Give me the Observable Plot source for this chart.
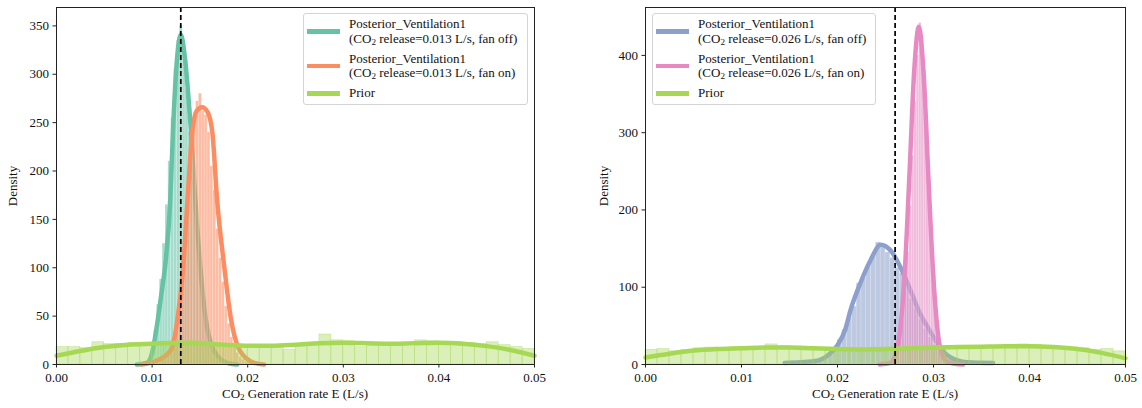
<!DOCTYPE html>
<html>
<head>
<meta charset="utf-8">
<script src="https://cdn.jsdelivr.net/npm/d3@7"></script>
<script src="https://cdn.jsdelivr.net/npm/@observablehq/plot@0.6"></script>
<style>
  body { margin: 0; background: #fff; }
  #wrap { position: relative; width: 1142px; height: 408px; font-family: "Liberation Serif", "Times New Roman", "DejaVu Serif", serif; color: #111; }
  .panel { position: absolute; top: 0; }
  .legend { position: absolute; box-sizing: border-box; border: 1px solid #d4d4d4; border-radius: 3px; background: rgba(255,255,255,0.85); padding: 3px 4px 0 3px; font-size: 13px; line-height: 14.5px; }
  .row { display: flex; align-items: center; margin-bottom: 5.5px; }
  .sw { width: 33px; height: 4.5px; margin-right: 9px; flex: none; }
  .xl { position: absolute; font-size: 13px; transform: translateX(-50%); white-space: nowrap; }
  .yl { position: absolute; font-size: 13px; transform: translate(-50%,-50%) rotate(-90deg); white-space: nowrap; }
  sub { font-size: 70%; vertical-align: -0.25em; line-height: 0; }
</style>
</head>
<body>
<div id="wrap">
  <div id="left" class="panel" style="left:0"></div>
  <div id="right" class="panel" style="left:571px"></div>
  <div class="legend" style="left:303px;top:13px;width:225px;height:92px">
    <div class="row"><span class="sw" style="background:#66c2a5"></span><span>Posterior_Ventilation1<br>(CO<sub>2</sub> release=0.013 L/s, fan off)</span></div>
    <div class="row"><span class="sw" style="background:#fc8d62"></span><span>Posterior_Ventilation1<br>(CO<sub>2</sub> release=0.013 L/s, fan on)</span></div>
    <div class="row"><span class="sw" style="background:#a6d854"></span><span>Prior</span></div>
  </div>
  <div class="legend" style="left:652px;top:13px;width:224px;height:92px">
    <div class="row"><span class="sw" style="background:#8da0cb"></span><span>Posterior_Ventilation1<br>(CO<sub>2</sub> release=0.026 L/s, fan off)</span></div>
    <div class="row"><span class="sw" style="background:#e78ac3"></span><span>Posterior_Ventilation1<br>(CO<sub>2</sub> release=0.026 L/s, fan on)</span></div>
    <div class="row"><span class="sw" style="background:#a6d854"></span><span>Prior</span></div>
  </div>
  <div class="xl" style="left:295px;top:386px">CO<sub>2</sub> Generation rate E (L/s)</div>
  <div class="xl" style="left:885px;top:386px">CO<sub>2</sub> Generation rate E (L/s)</div>
  <div class="yl" style="left:13px;top:186px">Density</div>
  <div class="yl" style="left:604px;top:186px">Density</div>
</div>
<script>
// ---------- tick labels ----------
const xTicks = [0, 0.01, 0.02, 0.03, 0.04, 0.05];
const yTicksLeft = [0, 50, 100, 150, 200, 250, 300, 350];
const yTicksRight = [0, 100, 200, 300, 400];
const trueRateLeft = 0.013;
const trueRateRight = 0.026;

// ---------- colours ----------
const cTeal = "#66c2a5", cOrange = "#fc8d62", cBlue = "#8da0cb", cPink = "#e78ac3", cLime = "#a6d854";

// ---------- prior histograms (bins of 0.00125 from 0) ----------
const priorBinStart = 0, priorBinWidth = 0.00125;
const priorHistLeft = [18,18,17,23,21,21,22,22,21,22,21,24,22,21,20,19,20,18,18,15,19,22,31,25,24,18,21,20,22,18,25,24,22,23,22,21,23,20,18,16];
const priorHistRight = [19,20,17,19,21,22,21,22,21,23,26,24,23,22,21,21,20,19,20,21,19,22,21,22,23,22,21,22,21,23,24,26,25,22,21,22,21,19,20,17];

// ---------- prior KDE ----------
const priorKdeX = [0,0.0025,0.005,0.0075,0.01,0.0125,0.015,0.0175,0.02,0.0225,0.025,0.0275,0.03,0.0325,0.035,0.0375,0.04,0.0425,0.045,0.0475,0.05];
const priorKdeLeft = [9,14,18,20.5,21.5,22.5,22,20.5,19.5,19.5,20.5,22,22.5,22,21.5,22,22.5,21.5,19,15,9];
const priorKdeRight = [9,14,18,20,21,22,22,21,20,19.5,20,21,22,22.5,23,23.5,23.5,22.5,20,15,8];

// ---------- left: fan off (teal) ----------
const offLeftBinStart = 0.0084, offLeftBinWidth = 0.0003;
const offLeftHist = [0.3,0.5,1,2,6,16,35,62,88,125,165,210,255,305,335,350,325,285,240,195,165,122,90,65,45,30,18,11,7,4,2.5,1.5,1,0.5,0.3];
const offLeftKdeX = [0.0084,0.0095,0.0100,0.0105,0.0110,0.0114,0.0119,0.0122,0.0126,0.0130,0.0134,0.0140,0.01452,0.01505,0.01557,0.0165,0.0178,0.0189];
const offLeftKdeY = [0,2,12,40,75,105,170,245,315,341,320,250,170,100,50,14,2,0];

// ---------- left: fan on (orange) ----------
const onLeftBinStart = 0.0089, onLeftBinWidth = 0.0003;
const onLeftHist = [0.5,1,1.5,2,3,4,5,8,10,13,20,30,45,70,100,140,180,225,255,272,280,262,258,240,205,180,140,110,85,60,42,28,18,12,8,5,3,2,1.5,1,0.5,0.3,0.2];
const onLeftKdeX = [0.0089,0.0099,0.0119,0.0127,0.01325,0.0137,0.0142,0.01465,0.01522,0.0158,0.0163,0.0168,0.01756,0.0182,0.0192,0.0206,0.0217];
const onLeftKdeY = [0,2,14,50,100,170,240,262,266,261,240,170,100,50,14,2,0];

// ---------- right: fan off (blue) ----------
const offRightBinStart = 0.0145, offRightBinWidth = 0.0005;
const offRightHist = [0.5,1,1,2,2,3,4,6,8,14,22,32,45,60,75,105,112,128,140,158,152,145,138,125,118,100,85,72,58,46,35,25,18,12,8,5,3,2,1.5,1,0.5,0.5,0.3];
const offRightKdeX = [0.0145,0.0161,0.0179,0.0190,0.0200,0.0208,0.02135,0.0224,0.02344,0.0245,0.0255,0.02656,0.0276,0.0286,0.0297,0.0307,0.0318,0.0335,0.0362];
const offRightKdeY = [2,3,5,12,25,45,70,106,135,155,148,126,96,66,42,22,9,3,2];

// ---------- right: fan on (pink) ----------
const onRightBinStart = 0.0245, onRightBinWidth = 0.00025;
const onRightHist = [0.3,0.5,1,1.5,2,4,8,16,32,58,95,145,205,270,340,400,442,425,380,310,240,175,118,72,42,22,11,6,3,2,1,0.6,0.4,0.2];
const onRightKdeX = [0.0244,0.0255,0.0260,0.0265,0.0270,0.0275,0.0280,0.02847,0.0290,0.0295,0.0300,0.0305,0.0310,0.0315,0.0322,0.0331];
const onRightKdeY = [0,2,11,42,118,247,382,437,370,233,110,36,10,3,1,0];

// ---------- helpers (build tables from the arrays) ----------
function hist(start, width, heights) {
  return heights.map((h, i) => ({x1: start + i * width, x2: start + (i + 1) * width, y: h}));
}
function kde(xs, ys) { return xs.map((x, i) => ({x, y: ys[i]})); }

function histMark(data, color, strokeColor, fillOpacity, strokeOpacity) {
  return Plot.rectY(data, {x1: "x1", x2: "x2", y1: 0, y2: "y", fill: color, fillOpacity,
    stroke: strokeColor, strokeWidth: 0.6, strokeOpacity});
}
function kdeMark(data, color) {
  return Plot.line(data, {x: "x", y: "y", stroke: color, strokeWidth: 4.5, curve: "monotone-x"});
}

function panel(opts) {
  return Plot.plot({
    width: 571, height: 408,
    marginTop: 7, marginBottom: 44, marginLeft: opts.ml, marginRight: opts.mr,
    style: {fontFamily: "'Liberation Serif', 'Times New Roman', serif", fontSize: "13px", color: "#111", background: "transparent"},
    x: {domain: [0, 0.05]},
    y: {domain: [0, opts.ymax]},
    marks: [
      histMark(opts.h1, opts.c1, "white", 0.58, 0.3),
      kdeMark(opts.k1, opts.c1),
      histMark(opts.h2, opts.c2, "white", 0.58, 0.3),
      kdeMark(opts.k2, opts.c2),
      histMark(opts.hp, cLime, cLime, 0.4, 0.55),
      kdeMark(opts.kp, cLime),
      Plot.ruleX([opts.truth], {stroke: "black", strokeWidth: 1.7, strokeDasharray: "5,3"}),
      Plot.frame({stroke: "#222", strokeWidth: 1}),
      Plot.axisX({ticks: xTicks, tickFormat: d3.format(".2f"), tickSize: 3.5, tickPadding: 5, label: null, stroke: "#222"}),
      Plot.axisY({ticks: opts.yticks, tickSize: 3.5, tickPadding: 4, label: null, stroke: "#222"})
    ]
  });
}

document.getElementById("left").append(panel({
  ml: 56, mr: 37, ymax: 369, yticks: yTicksLeft, truth: trueRateLeft,
  h1: hist(offLeftBinStart, offLeftBinWidth, offLeftHist), k1: kde(offLeftKdeX, offLeftKdeY), c1: cTeal,
  h2: hist(onLeftBinStart, onLeftBinWidth, onLeftHist), k2: kde(onLeftKdeX, onLeftKdeY), c2: cOrange,
  hp: hist(priorBinStart, priorBinWidth, priorHistLeft), kp: kde(priorKdeX, priorKdeLeft)
}));
document.getElementById("right").append(panel({
  ml: 74, mr: 17, ymax: 462, yticks: yTicksRight, truth: trueRateRight,
  h1: hist(offRightBinStart, offRightBinWidth, offRightHist), k1: kde(offRightKdeX, offRightKdeY), c1: cBlue,
  h2: hist(onRightBinStart, onRightBinWidth, onRightHist), k2: kde(onRightKdeX, onRightKdeY), c2: cPink,
  hp: hist(priorBinStart, priorBinWidth, priorHistRight), kp: kde(priorKdeX, priorKdeRight)
}));
</script>
</body>
</html>
